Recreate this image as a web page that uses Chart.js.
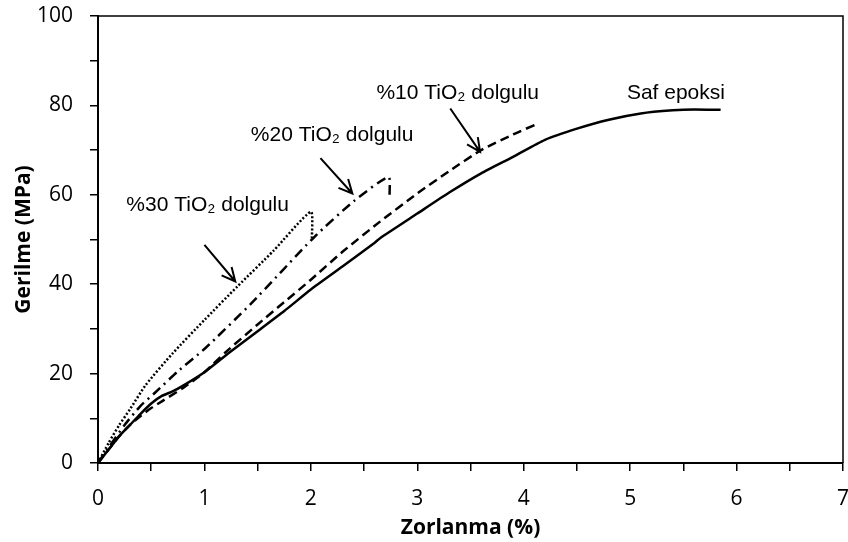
<!DOCTYPE html>
<html>
<head>
<meta charset="utf-8">
<script src="https://cdn.jsdelivr.net/npm/chart.js@4.4.1/dist/chart.umd.min.js"></script>
<style>
  html, body { margin: 0; padding: 0; background: #fff; }
  #chart { display: block; }
</style>
</head>
<body>
<canvas id="chart" width="848" height="542"></canvas>
<script>
// strain (%) / stress (MPa) curves
const safX = [0, 0.1, 0.2, 0.3, 0.4, 0.5, 0.6, 0.7, 0.8, 1.0, 1.25, 1.5, 1.75, 2.0, 2.3, 2.6, 2.65, 3.0, 3.3, 3.6, 3.9, 4.2, 4.5, 4.8, 5.1, 5.4, 5.6, 5.85];
const safY = [0, 3, 6, 8.5, 11, 13.3, 15, 16, 17.3, 20.3, 25, 29.5, 34, 38.8, 44, 49.3, 50.3, 55.8, 60.5, 64.8, 68.5, 72.3, 74.8, 76.8, 78.2, 78.9, 79.1, 79];

const tio10X = [0, 0.1, 0.2, 0.3, 0.4, 0.5, 0.6, 0.8, 1.0, 1.2, 1.5, 1.75, 2.0, 2.3, 2.65, 3.0, 3.3, 3.6, 3.9, 4.12];
const tio10Y = [0, 3, 6, 8.5, 10.5, 12.3, 13.8, 16.8, 20.3, 24.8, 31, 36, 41, 47.3, 54, 60.3, 65.3, 70, 73.5, 75.8];

const tio20X = [0, 0.1, 0.25, 0.4, 0.53, 0.75, 1.0, 1.44, 2.03, 2.4, 2.73, 2.74];
const tio20Y = [0, 3.5, 8.5, 12.8, 15.6, 20.5, 25.5, 35.7, 50.5, 58.5, 64, 60];

const tio30X = [0, 0.1, 0.2, 0.3, 0.45, 0.7, 1.0, 1.31, 1.65, 2.0, 2.01];
const tio30Y = [0, 4.5, 8.5, 12, 17.5, 24.5, 32, 39.5, 47.5, 56.2, 50];

// curve labels and their arrows (axis units)
const noteText = ['%30 TiO₂ dolgulu', '%20 TiO₂ dolgulu', '%10 TiO₂ dolgulu', 'Saf epoksi'];
const noteX = [1.03, 2.2, 3.38, 5.43];
const noteY = [57.7, 73.4, 82.8, 82.8];
const arrowFrom = [[1.0, 48.8], [2.09, 68.2], [3.31, 79.3]];
const arrowTo = [[1.29, 40.6], [2.39, 60.3], [3.59, 69.6]];

function toPoints(xs, ys) {
  return xs.map((x, i) => ({ x: x, y: ys[i] }));
}

function curve(label, xs, ys, dash) {
  return {
    label: label,
    data: toPoints(xs, ys),
    showLine: true,
    borderColor: "#000",
    borderWidth: 2.5,
    borderDash: dash,
    pointRadius: 0,
    tension: 0.2,
    fill: false,
  };
}

// fixed axis box sizes, no extra label overhang
function fixBox(size) {
  return (s) => {
    if (s.isHorizontal()) s.height = size;
    else s.width = size;
    s.paddingTop = s.paddingBottom = s.paddingLeft = s.paddingRight = 0;
  };
}

const notesPlugin = {
  id: "notes",
  afterDatasetsDraw(chart) {
    const { ctx, chartArea: a, scales: { x, y } } = chart;
    ctx.save();
    // frame on top and right
    ctx.strokeStyle = "#000";
    ctx.lineWidth = 1.5;
    ctx.beginPath();
    ctx.moveTo(a.left, a.top);
    ctx.lineTo(a.right, a.top);
    ctx.lineTo(a.right, a.bottom);
    ctx.stroke();

    ctx.fillStyle = "#000";
    ctx.font = "21px 'Liberation Sans', Arial, sans-serif";
    ctx.textAlign = "center";
    ctx.textBaseline = "middle";
    noteText.forEach((t, i) => {
      ctx.fillText(t, x.getPixelForValue(noteX[i]), y.getPixelForValue(noteY[i]));
    });

    ctx.lineWidth = 2;
    arrowFrom.forEach((p, i) => {
      const x0 = x.getPixelForValue(p[0]), y0 = y.getPixelForValue(p[1]);
      const x1 = x.getPixelForValue(arrowTo[i][0]), y1 = y.getPixelForValue(arrowTo[i][1]);
      const ang = Math.atan2(y1 - y0, x1 - x0);
      ctx.beginPath();
      ctx.moveTo(x0, y0);
      ctx.lineTo(x1, y1);
      ctx.moveTo(x1 - 15 * Math.cos(ang - 0.45), y1 - 15 * Math.sin(ang - 0.45));
      ctx.lineTo(x1, y1);
      ctx.lineTo(x1 - 15 * Math.cos(ang + 0.45), y1 - 15 * Math.sin(ang + 0.45));
      ctx.stroke();
    });
    ctx.restore();
  },
};

const tickFont = { family: "'Open Sans', sans-serif", size: 21 };
const titleFont = { family: "'Open Sans', sans-serif", size: 21, weight: "bold" };

const ctx = document.getElementById("chart").getContext("2d");
const chart = new Chart(ctx, {
  type: "scatter",
  data: {
    datasets: [
      curve("Saf epoksi", safX, safY, []),
      curve("%10 TiO₂ dolgulu", tio10X, tio10Y, [9, 5]),
      curve("%20 TiO₂ dolgulu", tio20X, tio20Y, [10, 5, 2, 5]),
      curve("%30 TiO₂ dolgulu", tio30X, tio30Y, [2, 2]),
    ],
  },
  options: {
    responsive: false,
    animation: false,
    layout: { padding: { left: 0, right: 5, top: 16, bottom: 0 } },
    scales: {
      x: {
        type: "linear",
        min: 0,
        max: 7,
        afterFit: fixBox(79),
        ticks: {
          stepSize: 0.5,
          autoSkip: false,
          maxRotation: 0,
          padding: 15,
          color: "#000",
          font: tickFont,
          callback: (v) => (Number.isInteger(v) ? v : ""),
        },
        grid: { drawOnChartArea: false, tickLength: 8, color: "#000", lineWidth: 1.5 },
        border: { color: "#000", width: 2 },
        title: { display: true, text: "Zorlanma (%)", color: "#000", font: titleFont, padding: { top: 0, bottom: 1 } },
      },
      y: {
        min: 0,
        max: 100,
        afterFit: fixBox(98),
        ticks: {
          stepSize: 10,
          autoSkip: false,
          padding: 17,
          color: "#000",
          font: tickFont,
          callback: (v) => (v % 20 === 0 ? v : ""),
        },
        grid: { drawOnChartArea: false, tickLength: 8, color: "#000", lineWidth: 1.5 },
        border: { color: "#000", width: 2 },
        title: { display: true, text: "Gerilme (MPa)", color: "#000", font: titleFont, padding: { top: 11, bottom: 0 } },
      },
    },
    plugins: {
      legend: { display: false },
      tooltip: { enabled: false },
    },
  },
  plugins: [notesPlugin],
});
</script>
</body>
</html>
